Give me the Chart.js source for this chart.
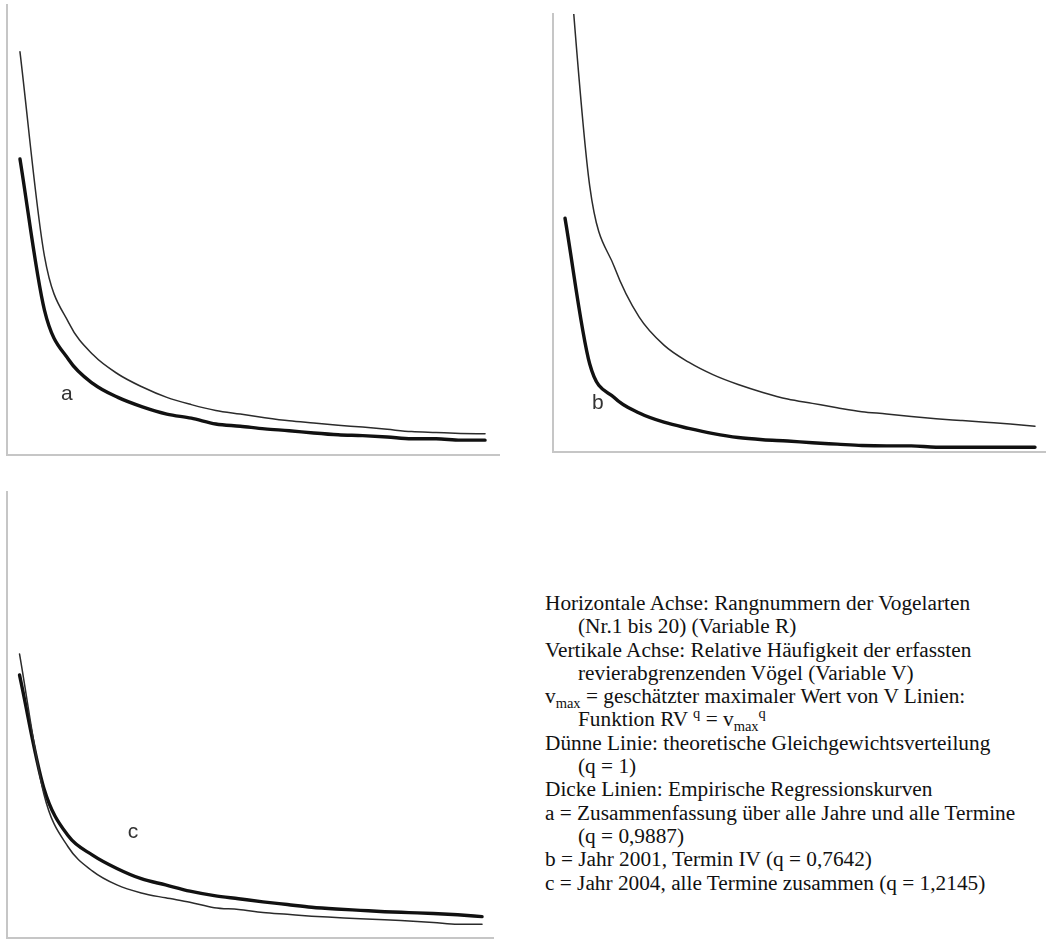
<!DOCTYPE html>
<html lang="de">
<head>
<meta charset="utf-8">
<title>Rang-Häufigkeits-Kurven der Vogelarten</title>
<script src="https://cdn.jsdelivr.net/npm/chart.js@4/dist/chart.umd.min.js"></script>
<style>
  html, body { margin: 0; padding: 0; background: #fff; }
  body { width: 1046px; height: 940px; position: relative; overflow: hidden; }
  canvas { position: absolute; }
  #legend {
    position: absolute; left: 545px; top: 592px;
    font-family: "Liberation Serif", "Times New Roman", serif;
    font-size: 21.3px; line-height: 23.3px; color: #111; white-space: nowrap;
  }
  #legend .ind { padding-left: 33px; }
  #legend sub, #legend sup { font-size: 14.5px; line-height: 0; }
</style>
</head>
<body>
<canvas id="chartA" width="510" height="465" style="left:0;top:0"></canvas>
<canvas id="chartB" width="506" height="465" style="left:540px;top:0"></canvas>
<canvas id="chartC" width="510" height="460" style="left:0;top:480px"></canvas>

<div id="legend">
  <div>Horizontale Achse: Rangnummern der Vogelarten</div>
  <div class="ind">(Nr.1 bis 20) (Variable R)</div>
  <div>Vertikale Achse: Relative Häufigkeit der erfassten</div>
  <div class="ind">revierabgrenzenden Vögel (Variable V)</div>
  <div>v<sub>max</sub> = geschätzter maximaler Wert von V Linien:</div>
  <div class="ind">Funktion RV <sup>q</sup> = v<sub>max</sub><sup>q</sup></div>
  <div>Dünne Linie: theoretische Gleichgewichtsverteilung</div>
  <div class="ind">(q = 1)</div>
  <div>Dicke Linien: Empirische Regressionskurven</div>
  <div>a = Zusammenfassung über alle Jahre und alle Termine</div>
  <div class="ind">(q = 0,9887)</div>
  <div>b = Jahr 2001, Termin IV (q = 0,7642)</div>
  <div>c = Jahr 2004, alle Termine zusammen (q = 1,2145)</div>
</div>

<script>
// Rangnummern der Vogelarten (Nr. 1 bis 20)
const ranks = [1, 2, 3, 4, 5, 6, 7, 8, 9, 10, 11, 12, 13, 14, 15, 16, 17, 18, 19, 20];

// relative Häufigkeit, skaliert so dass die Oberkante der Achse = 100
// a: alle Jahre, alle Termine
const thinA  = [89.6, 44.2, 29.3, 22.2, 18.0, 15.1, 12.8, 11.2, 9.9, 9.1, 8.3, 7.6, 7.1, 6.6, 6.2, 5.7, 5.2, 5.0, 4.8, 4.7];
const thickA = [65.8, 32.2, 21.1, 15.8, 12.8, 10.7, 9.1, 8.2, 6.9, 6.4, 5.8, 5.4, 4.9, 4.5, 4.3, 4.0, 3.6, 3.6, 3.3, 3.3];
// b: 2001, Termin IV (erster Wert liegt über dem Achsenende)
const thinB  = [124.4, 60.7, 42.2, 30.8, 24.4, 20.5, 17.6, 15.4, 13.6, 12.1, 11.1, 10.1, 9.2, 8.7, 8.1, 7.6, 7.2, 6.8, 6.4, 5.9];
const thickB = [53.4, 20.1, 12.4, 8.9, 6.8, 5.4, 4.2, 3.3, 2.8, 2.5, 2.1, 1.8, 1.5, 1.4, 1.4, 1.1, 1.1, 1.1, 1.1, 1.1];
// c: 2004, alle Termine
const thinC  = [63.7, 32.3, 20.4, 15.0, 11.9, 10.1, 9.0, 8.0, 6.8, 6.4, 5.7, 5.3, 4.9, 4.6, 4.3, 4.1, 3.8, 3.5, 3.1, 3.1];
const thickC = [59.0, 33.6, 22.9, 18.6, 15.6, 13.3, 11.9, 10.5, 9.5, 8.8, 8.1, 7.5, 6.9, 6.5, 6.2, 5.9, 5.7, 5.5, 5.2, 4.8];

// draws the panel letter (a, b, c) at a data position
const panelLetter = {
  id: 'panelLetter',
  afterDatasetsDraw(chart, args, opts) {
    const {ctx, scales: {x, y}} = chart;
    ctx.save();
    ctx.font = '21px "Liberation Sans", Arial, sans-serif';
    ctx.fillStyle = '#333';
    ctx.textAlign = 'center';
    ctx.textBaseline = 'alphabetic';
    ctx.fillText(opts.text, x.getPixelForValue(opts.x), y.getPixelForValue(opts.y));
    ctx.restore();
  }
};

function series(values) {
  return ranks.map((r, i) => ({x: r, y: values[i]}));
}

function axis(min, max) {
  return {
    type: 'linear', min: min, max: max,
    grid: {display: false, drawTicks: false},
    ticks: {display: false},
    border: {display: true, color: '#c6c6c6', width: 2}
  };
}

function makePanel(id, thin, thick, letter, cfg) {
  return new Chart(document.getElementById(id), {
    type: 'line',
    data: {
      datasets: [
        {data: series(thin), borderColor: '#2b2b2b', borderWidth: 1.5},
        {data: series(thick), borderColor: '#111', borderWidth: 3.4}
      ]
    },
    options: {
      responsive: false,
      animation: false,
      devicePixelRatio: 1,
      layout: {padding: cfg.padding},
      elements: {
        point: {radius: 0},
        line: {cubicInterpolationMode: 'monotone', borderCapStyle: 'round', borderJoinStyle: 'round'}
      },
      scales: {x: axis(cfg.xMin, cfg.xMax), y: axis(0, 100)},
      plugins: {
        legend: {display: false},
        tooltip: {enabled: false},
        panelLetter: {text: letter, x: cfg.letterAt[0], y: cfg.letterAt[1]}
      }
    },
    plugins: [panelLetter]
  });
}

makePanel('chartA', thinA, thickA, 'a', {
  padding: {left: 7, top: 5, right: 11, bottom: 10},
  xMin: 0.47, xMax: 20.57, letterAt: [2.91, 12.2]
});
makePanel('chartB', thinB, thickB, 'b', {
  padding: {left: 13, top: 14, right: 0, bottom: 13},
  xMin: 0.515, xMax: 20.445, letterAt: [2.33, 9.8]
});
makePanel('chartC', thinC, thickC, 'c', {
  padding: {left: 7, top: 12, right: 17, bottom: 2},
  xMin: 0.486, xMax: 20.45, letterAt: [5.66, 22.4]
});
</script>
</body>
</html>
